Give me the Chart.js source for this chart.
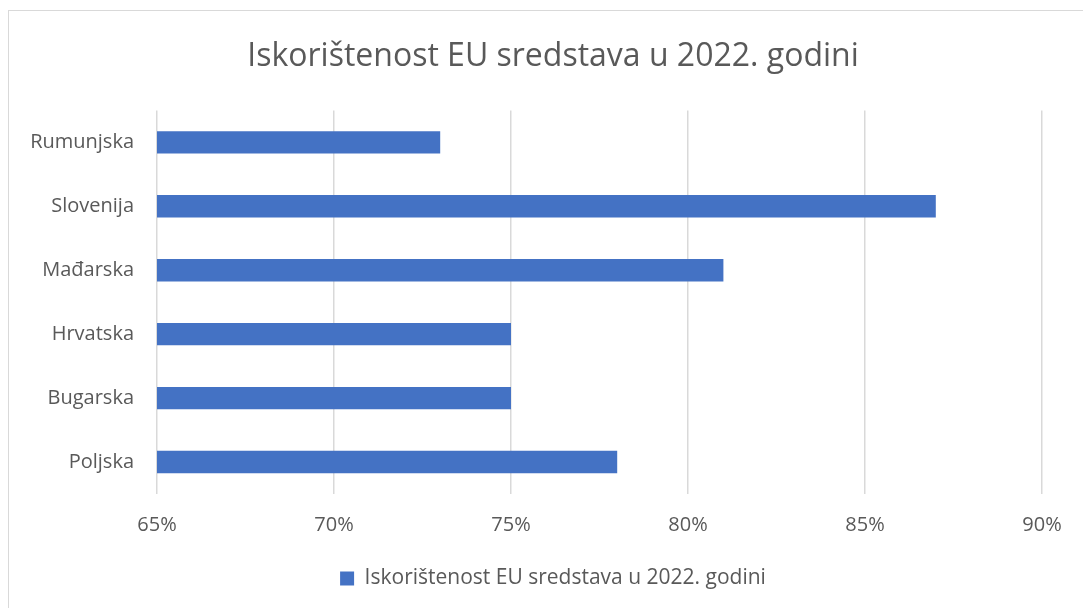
<!DOCTYPE html>
<html>
<head>
<meta charset="utf-8">
<script src="https://cdn.jsdelivr.net/npm/chart.js@4"></script>
<style>
  html, body { margin: 0; padding: 0; background: #fff; overflow: hidden; }
  #wrap { position: relative; width: 1083px; height: 608px; }
  #frame { position: absolute; left: 8px; top: 10px; width: 1100px; height: 620px; border: 1px solid #d9d9d9; }
  canvas { position: absolute; left: 0; top: 0; }
</style>
</head>
<body>
<div id="wrap">
  <div id="frame"></div>
  <canvas id="chart" width="1083" height="608"></canvas>
</div>
<script>
// countries, top to bottom as in the picture
var countries = ['Rumunjska', 'Slovenija', 'Mađarska', 'Hrvatska', 'Bugarska', 'Poljska'];
// share of EU funds used, percent
var usage = [73, 87, 81, 75, 75, 78];
var seriesName = 'Iskorištenost EU sredstava u 2022. godini';
var axisMin = 65;
var axisMax = 90;
var axisStep = 5;

var FONT = "'Open Sans', sans-serif";
var GREY = '#595959';

// title and legend sit centred on the whole frame, not on the plot
var centreShift = {
  id: 'centreShift',
  afterLayout: function (chart) {
    [chart.titleBlock, chart.legend].forEach(function (box) {
      if (!box) return;
      box.left += 32;
      box.right += 32;
    });
  }
};

var ctx = document.getElementById('chart').getContext('2d');
var chart = new Chart(ctx, {
  type: 'bar',
  data: {
    labels: countries,
    datasets: [{
      label: seriesName,
      data: usage,
      backgroundColor: '#4472c4',
      borderWidth: 0,
      barPercentage: 0.7,
      categoryPercentage: 0.5
    }]
  },
  options: {
    indexAxis: 'y',
    responsive: false,
    animation: false,
    layout: { padding: { left: 0, right: 41, top: 10, bottom: 9 } },
    plugins: {
      title: {
        display: true,
        text: seriesName,
        color: GREY,
        font: { family: FONT, size: 32, weight: 'normal' },
        padding: { top: 28, bottom: 34 }
      },
      legend: {
        position: 'bottom',
        labels: {
          color: GREY,
          font: { family: FONT, size: 21 },
          boxWidth: 14,
          boxHeight: 14,
          padding: 10
        }
      },
      tooltip: { enabled: false }
    },
    scales: {
      x: {
        min: axisMin,
        max: axisMax,
        ticks: {
          stepSize: axisStep,
          color: GREY,
          font: { family: FONT, size: 20 },
          padding: 19,
          callback: function (v) { return v + '%'; }
        },
        grid: { color: '#d9d9d9', lineWidth: 1.5, drawTicks: false },
        border: { display: false },
        afterFit: function (scale) { scale.height = 64; }
      },
      y: {
        ticks: {
          color: GREY,
          font: { family: FONT, size: 20 },
          padding: 23
        },
        grid: { display: false, drawTicks: false },
        border: { display: false },
        afterFit: function (scale) { scale.width = 157; }
      }
    }
  },
  plugins: [centreShift]
});
</script>
</body>
</html>
